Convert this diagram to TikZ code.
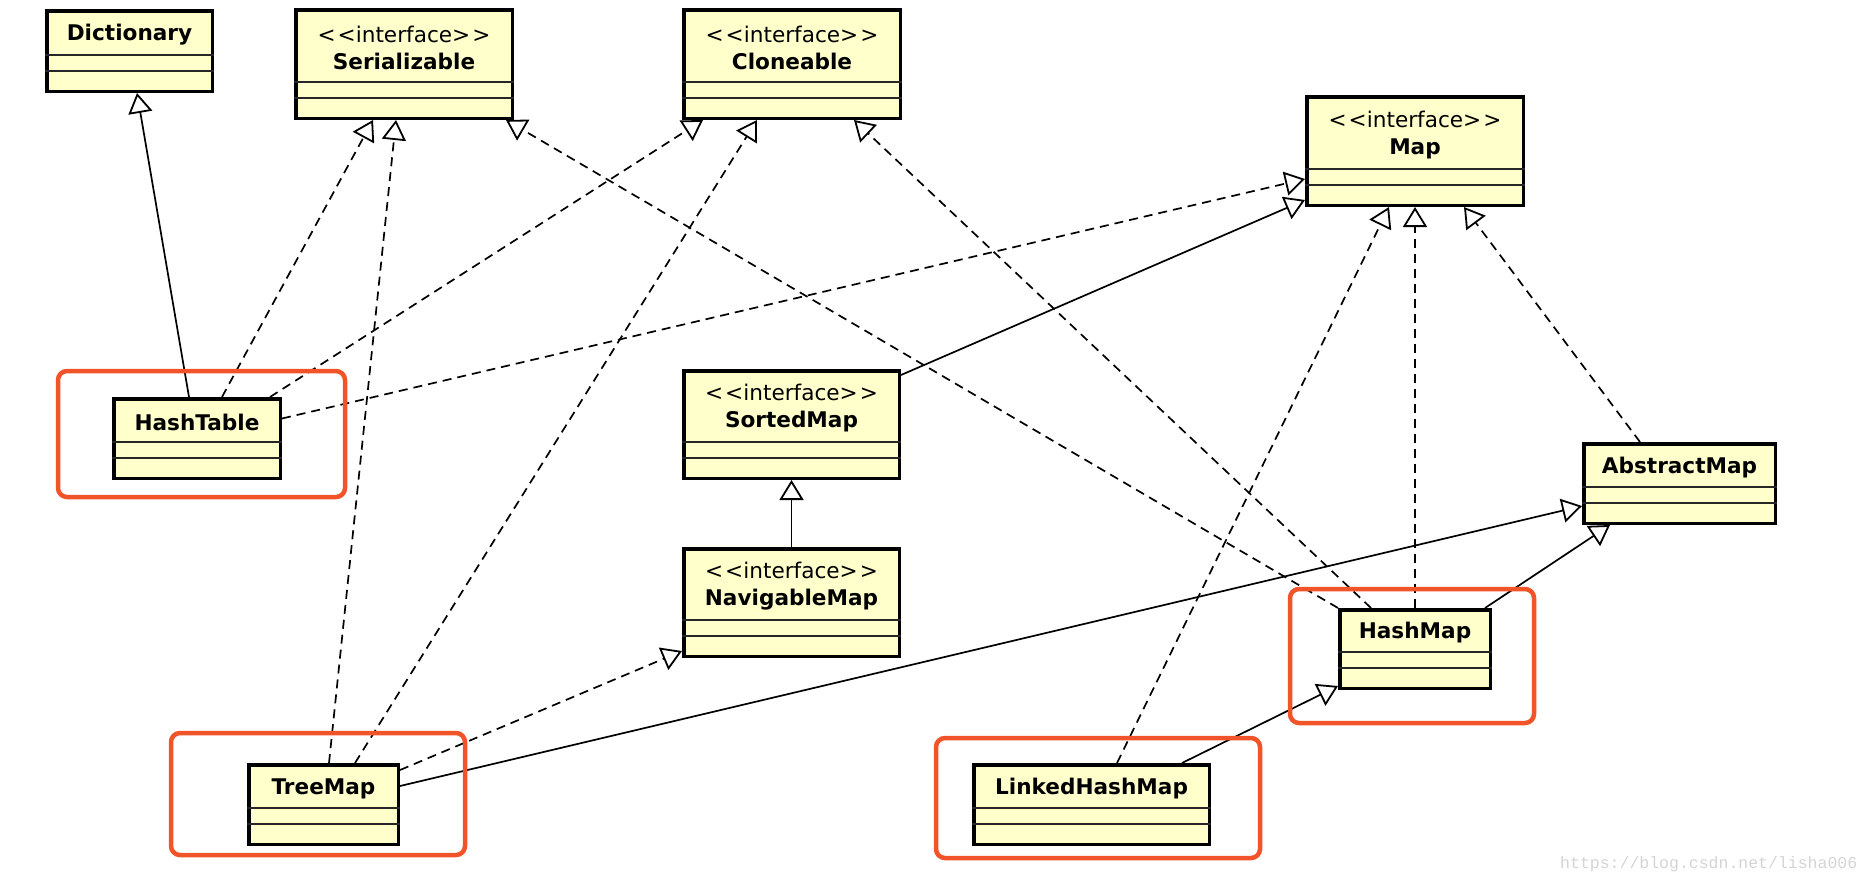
\documentclass[tikz,border=0pt]{standalone}
\usepackage{fontspec}
\setmainfont{DejaVu Sans}
\newfontfamily\wmfont{Liberation Mono}
\usetikzlibrary{arrows.meta,calc}
\definecolor{umlfill}{RGB}{255,255,204}
\definecolor{hilite}{RGB}{240,84,40}
\definecolor{wmgray}{RGB}{212,212,212}
\pgfdeclarelayer{bg}
\pgfsetlayers{bg,main}
\tikzset{
  umlbox/.style={draw=black, fill=umlfill, line width=3.5pt, rectangle, inner sep=0pt},
  sepline/.style={line width=1.8pt, draw=black!85},
  umltitle/.style={font=\fontsize{21.6}{27}\selectfont, align=center, inner sep=0pt},
  gen/.style={line width=1.7pt, -{Triangle[length=20pt,width=24pt,fill=white,line width=1.8pt]}},
  real/.style={gen, dash pattern=on 9pt off 6pt},
  hl/.style={draw=hilite, line width=4.5pt, rounded corners=9pt},
}
% name, x1, y1, x2, y2, title
\newcommand\umlclass[6]{%
  \node[umlbox, minimum width={(#4-#2-3.5)*1pt}, minimum height={(#5-#3-3.5)*1pt}]
    (#1) at ({(#2+#4)/2},{(#3+#5)/2}) {};
  \draw[sepline] ([yshift=38pt]#1.south west) -- ([yshift=38pt]#1.south east);
  \draw[sepline] ([yshift=22pt]#1.south west) -- ([yshift=22pt]#1.south east);
  \node[umltitle] (#1-t) at ($(#1.north)!0.5!([yshift=38pt]#1.south)+(0,3)$) {#6};
}
\newcommand\iface[1]{<\kern2pt<interface>\kern2pt>\\\textbf{#1}}
\begin{document}
\begin{tikzpicture}[x=1pt,y=-1pt]
\useasboundingbox (0,0) rectangle (1870,884);

\umlclass{dict}{45}{9}{214}{93}{\textbf{Dictionary}}
\umlclass{ser}{294}{8}{514}{120}{\iface{Serializable}}
\umlclass{clo}{682}{8}{902}{120}{\iface{Cloneable}}
\umlclass{map}{1305}{95}{1525}{207}{\iface{Map}}
\umlclass{htab}{112}{397}{282}{480}{\textbf{HashTable}}
\umlclass{smap}{682}{369}{901}{480}{\iface{SortedMap}}
\umlclass{amap}{1582}{442}{1777}{525}{\textbf{AbstractMap}}
\umlclass{nmap}{682}{547}{901}{658}{\iface{NavigableMap}}
\umlclass{hmap}{1338}{608}{1492}{690}{\textbf{HashMap}}
\umlclass{tmap}{247}{763}{400}{846}{\textbf{TreeMap}}
\umlclass{lhm}{972}{763}{1211}{846}{\textbf{LinkedHashMap}}

\begin{pgfonlayer}{bg}
\draw[gen]  ([xshift=-8pt]htab.north) -- ([xshift=7.5pt]dict.south);
\draw[real] ([xshift=25pt]htab.north) -- ([xshift=-31pt]ser.south);
\draw[real] ([xshift=73pt]htab.north) -- ([xshift=-89pt]clo.south);
\draw[real] ([yshift=20pt]htab.east) -- ([yshift=-28pt]map.west);
\draw[real] ([xshift=5.5pt]tmap.north) -- ([xshift=-8pt]ser.south);
\draw[real] ([xshift=31.5pt]tmap.north) -- ([xshift=-35pt]clo.south);
\draw[real] ([yshift=34.5pt]tmap.east) -- ([yshift=-48.5pt]nmap.west);
\draw[gen]  ([yshift=18.5pt]tmap.east) -- ([yshift=-22.5pt]amap.west);
\draw[gen]  ([yshift=49.5pt]smap.east) -- ([yshift=7pt]map.south west);
\draw[gen]  (nmap.north) -- (smap.south);
\draw[real] (hmap.north west) -- ([xshift=-8pt]ser.south east);
\draw[real] ([xshift=33pt]hmap.north west) -- ([xshift=-48pt]clo.south east);
\draw[real] (hmap.north) -- (map.south);
\draw[gen]  ([xshift=-7pt]hmap.north east) -- ([xshift=28pt]amap.south west);
\draw[real] ([xshift=-39.5pt]amap.north) -- ([xshift=49pt]map.south);
\draw[real] ([xshift=25.5pt]lhm.north) -- ([xshift=-26pt]map.south);
\draw[gen]  ([xshift=90.5pt]lhm.north) -- ([yshift=4pt]hmap.south west);
\end{pgfonlayer}

\draw[hl] (58,371) rectangle (345,497);
\draw[hl] (171,733) rectangle (465,855);
\draw[hl] (936,738) rectangle (1260,858);
\draw[hl] (1290,589) rectangle (1534,723);

\node[anchor=west, inner sep=0pt, text=wmgray, font=\wmfont\fontsize{16.5}{18}\selectfont] (wm) at (1560,864) {https://blog.csdn.net/lisha006};
\end{tikzpicture}
\end{document}
